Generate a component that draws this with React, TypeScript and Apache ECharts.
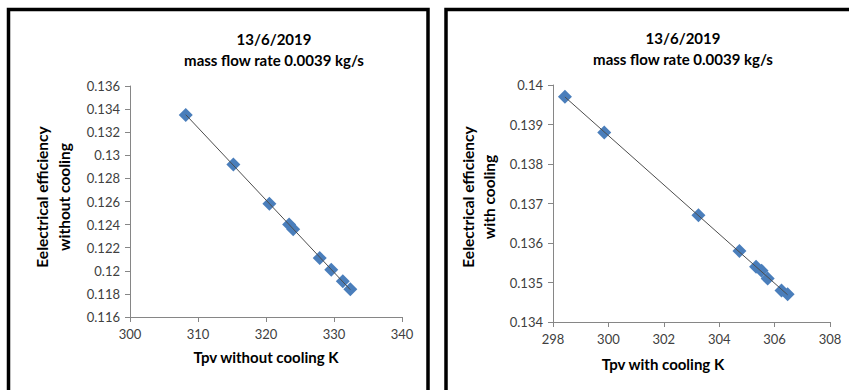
import React, { useEffect, useRef } from "react";
import * as echarts from "echarts";

const titleDate = "13/6/2019";
const titleFlow = "mass flow rate 0.0039 kg/s";

const leftX = [308.2, 315.2, 320.5, 323.4, 324.0, 327.9, 329.6, 331.3, 332.4];
const leftY = [0.1335, 0.1292, 0.1258, 0.1240, 0.1236, 0.1211, 0.1201, 0.1191, 0.1184];
const rightX = [298.43, 299.85, 303.25, 304.73, 305.33, 305.53, 305.75, 306.25, 306.47];
const rightY = [0.1397, 0.1388, 0.1367, 0.1358, 0.1354, 0.1353, 0.1351, 0.1348, 0.1347];

const leftXName = "Tpv without cooling K";
const leftYName = ["Eelectrical efficiency", "without cooling"];
const rightXName = "Tpv with cooling K";
const rightYName = ["Eelectrical efficiency", "with cooling"];

function trend(xs: number[], ys: number[]): number[][] {
  const n = xs.length;
  const mx = xs.reduce((a, b) => a + b, 0) / n;
  const my = ys.reduce((a, b) => a + b, 0) / n;
  let sxy = 0, sxx = 0;
  for (let i = 0; i < n; i++) {
    sxy += (xs[i] - mx) * (ys[i] - my);
    sxx += (xs[i] - mx) * (xs[i] - mx);
  }
  const b = sxy / sxx;
  const a = my - b * mx;
  const x0 = Math.min(...xs);
  const x1 = Math.max(...xs);
  return [[x0, a + b * x0], [x1, a + b * x1]];
}

const FONT = "Lato, 'Open Sans', sans-serif";
const AX = "#868686";

function fmt(v: number) {
  return String(+v.toFixed(4));
}

export default function App() {
  const ref = useRef<HTMLDivElement>(null);
  useEffect(() => {
    document.body.style.margin = "0";
    const chart = echarts.init(ref.current!, undefined, { renderer: "svg" });
    const axisCommon = {
      type: "value" as const,
      splitLine: { show: false },
      axisLine: { show: true, onZero: false, lineStyle: { color: AX, width: 1 } },
      axisTick: { show: true, inside: false, length: 5, lineStyle: { color: AX } },
      axisLabel: { color: "#404040", fontSize: 13, fontFamily: FONT, formatter: fmt, margin: 10 },
    };
    const scatterStyle = {
      type: "scatter" as const,
      symbol: "diamond",
      symbolSize: [14, 14],
      itemStyle: { color: "#4A7EBB", opacity: 1 },
      z: 2,
    };
    const lineStyle = {
      type: "line" as const,
      symbol: "none",
      lineStyle: { color: "#4d4d4d", width: 1 },
      z: 3,
      silent: true,
    };
    const nameStyle = { fill: "#000", font: `bold 15px ${FONT}`, textAlign: "center", textVerticalAlign: "middle" };
    const yNameStyle = { ...nameStyle, font: `bold 15.5px ${FONT}` };
    const tStyle = { fontFamily: FONT, fontSize: 15, fontWeight: "bold" as const, color: "#000", lineHeight: 21 };
    chart.setOption({
      animation: false,
      backgroundColor: "#fff",
      title: [
        { text: titleDate + "\n" + titleFlow, left: 269, top: 23, textAlign: "center", textStyle: tStyle },
        { text: titleDate + "\n" + titleFlow, left: 678, top: 22, textAlign: "center", textStyle: tStyle },
      ],
      grid: [
        { left: 130, top: 86, width: 272, height: 231 },
        { left: 553, top: 85, width: 277, height: 237 },
      ],
      xAxis: [
        { ...axisCommon, gridIndex: 0, min: 300, max: 340, interval: 10 },
        { ...axisCommon, gridIndex: 1, min: 298, max: 308, interval: 2 },
      ],
      yAxis: [
        { ...axisCommon, gridIndex: 0, min: 0.116, max: 0.136, interval: 0.002 },
        { ...axisCommon, gridIndex: 1, min: 0.134, max: 0.14, interval: 0.001 },
      ],
      series: [
        { ...scatterStyle, xAxisIndex: 0, yAxisIndex: 0, data: leftX.map((x, i) => [x, leftY[i]]) },
        { ...lineStyle, xAxisIndex: 0, yAxisIndex: 0, data: trend(leftX, leftY) },
        { ...scatterStyle, xAxisIndex: 1, yAxisIndex: 1, data: rightX.map((x, i) => [x, rightY[i]]) },
        { ...lineStyle, xAxisIndex: 1, yAxisIndex: 1, data: trend(rightX, rightY) },
      ],
      graphic: [
        { type: "rect", shape: { x: 8.5, y: 9.5, width: 419.5, height: 400 }, style: { fill: "none", stroke: "#000", lineWidth: 3.5 }, silent: true },
        { type: "rect", shape: { x: 446, y: 9.5, width: 420, height: 400 }, style: { fill: "none", stroke: "#000", lineWidth: 3.5 }, silent: true },
        { type: "text", x: 266, y: 357, style: { ...nameStyle, text: leftXName } },
        { type: "text", x: 663, y: 364, style: { ...nameStyle, text: rightXName } },
        { type: "text", x: 53, y: 197, rotation: Math.PI / 2, style: { ...yNameStyle, text: leftYName.join("\n"), lineHeight: 22 } },
        { type: "text", x: 478.5, y: 197, rotation: Math.PI / 2, style: { ...yNameStyle, text: rightYName.join("\n"), lineHeight: 21 } },
      ],
    });
    return () => chart.dispose();
  }, []);
  return <div ref={ref} style={{ position: "absolute", left: 0, top: 0, width: 849, height: 390 }} />;
}
